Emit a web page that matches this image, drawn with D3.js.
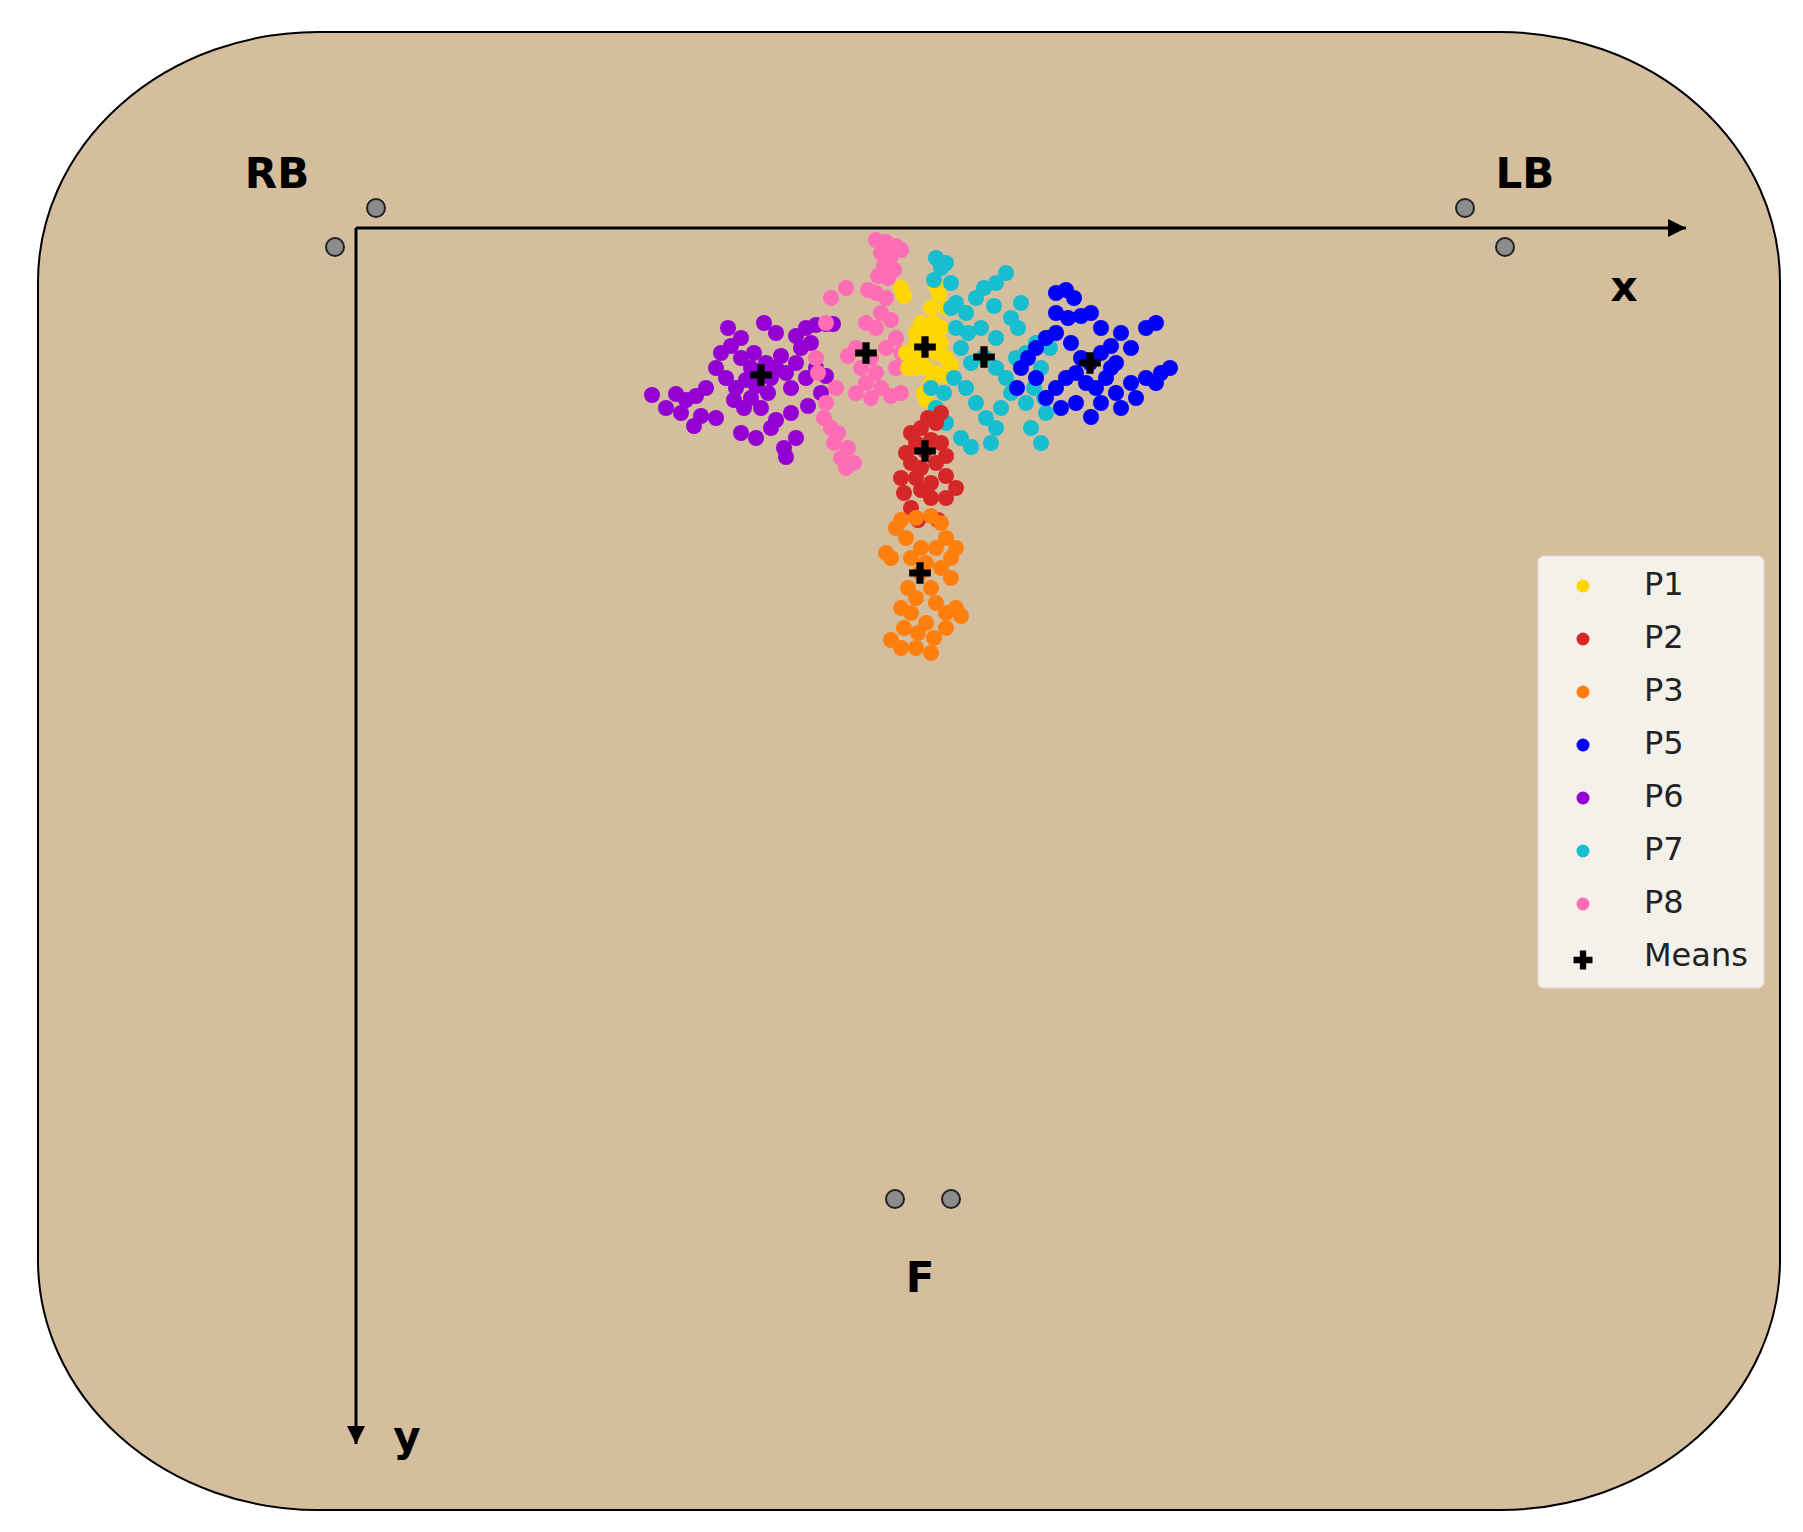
<!DOCTYPE html>
<html><head><meta charset="utf-8">
<script src="https://cdn.jsdelivr.net/npm/d3@7"></script>
<style>body{margin:0;background:#fff}</style></head>
<body><svg id="c" width="1803" height="1532"></svg>
<script>
const seriesNames = ["P1","P2","P3","P5","P6","P7","P8"];
const seriesColors = ["#FFD700","#D62728","#FF7F0E","#0000FF","#9400D3","#17BECF","#FF6EB4"];
const P1 = [[569,119],[560,115],[575,110],[580,125],[565,130],[555,125],[585,115],[590,130],[570,140],[560,140],[580,145],[575,155],[568,165],[570,172],[572,100],[578,95],[565,95],[560,105],[585,100],[545,60],[548,68],[580,58],[583,66],[590,80],[550,125],[552,140],[595,138],[590,148],[575,80]];
const P2 = [[569,223],[560,215],[575,212],[565,200],[572,190],[580,195],[555,235],[565,240],[580,235],[590,228],[585,215],[560,250],[575,255],[590,248],[600,260],[545,250],[550,225],[555,205],[585,185],[575,270],[565,262],[548,265],[555,280],[590,270],[562,292],[582,292]];
const P3 = [[545,292],[560,290],[575,288],[585,295],[590,310],[580,320],[565,320],[555,330],[570,335],[585,340],[595,330],[600,320],[550,310],[540,300],[535,330],[530,325],[564,345],[575,360],[560,370],[580,375],[590,385],[600,380],[605,388],[570,395],[555,385],[545,380],[548,400],[562,405],[578,410],[560,420],[545,420],[535,412],[590,400],[575,425],[552,360],[595,350]];
const P5 = [[700,65],[710,62],[718,70],[700,85],[712,90],[725,88],[735,85],[680,120],[690,110],[700,105],[715,115],[725,130],[734,135],[745,125],[755,118],[760,135],[750,150],[740,160],[730,155],[720,145],[710,150],[700,160],[690,170],[705,180],[720,175],[745,175],[760,165],[775,155],[790,150],[805,145],[814,140],[800,155],[780,170],[765,180],[735,189],[775,120],[790,100],[800,95],[765,105],[672,130],[665,140],[680,150],[661,160],[745,100],[755,140]];
const P6 = [[405,147],[395,140],[415,150],[400,158],[410,135],[390,152],[420,140],[385,130],[425,128],[430,145],[398,125],[412,165],[380,160],[395,170],[435,160],[440,135],[445,120],[450,150],[460,140],[470,148],[375,118],[365,125],[360,140],[370,150],[378,172],[388,180],[405,180],[350,160],[340,168],[330,172],[320,166],[296,167],[310,180],[325,185],[345,188],[360,190],[338,198],[385,205],[400,210],[415,200],[420,192],[435,185],[440,210],[428,220],[430,229],[450,100],[460,97],[470,96],[477,96],[440,108],[455,115],[385,110],[372,100],[408,95],[420,105],[465,165],[452,178]];
const P7 = [[580,30],[585,40],[590,35],[578,52],[595,55],[600,75],[610,85],[620,70],[628,60],[640,55],[650,45],[638,78],[655,90],[662,100],[640,110],[625,100],[600,100],[605,120],[615,135],[628,129],[640,140],[650,150],[660,130],[670,125],[680,115],[690,110],[694,120],[685,140],[678,160],[688,170],[690,185],[670,175],[655,165],[645,180],[640,200],[630,190],[620,175],[610,160],[598,150],[588,165],[580,180],[590,195],[605,210],[615,219],[635,215],[675,200],[685,215],[595,80],[612,105],[665,75],[575,160]];
const P8 = [[520,12],[530,14],[540,18],[525,25],[535,28],[545,22],[528,38],[538,42],[522,48],[532,50],[520,65],[530,70],[512,62],[490,60],[525,85],[510,95],[520,100],[535,92],[540,110],[530,120],[515,130],[500,120],[492,128],[505,140],[520,145],[540,140],[545,125],[510,155],[525,160],[500,165],[515,170],[535,168],[545,165],[475,70],[480,160],[470,175],[468,190],[475,200],[478,215],[485,230],[490,240],[482,205],[492,220],[498,235],[460,130],[462,145],[470,95]];
const seriesPoints = [P1,P2,P3,P5,P6,P7,P8];
const means = [[569,119],[569,223],[564,345],[734,135],[405,147],[628,129],[510,125]];
const sensorPos = [[20,-20],[-21,19],[1109,-20],[1149,19],[539,971],[595,971]];
const labels = [{t:"RB",p:[-79,-52]},{t:"LB",p:[1169,-52]},{t:"x",p:[1268,61]},{t:"y",p:[51,1211]},{t:"F",p:[564,1052]}];

const svg = d3.select("#c");
const x = d3.scaleLinear().domain([0,1330]).range([356,1686]);
const y = d3.scaleLinear().domain([0,1216]).range([228,1444]);

svg.append("rect").attr("x",38).attr("y",32).attr("width",1742).attr("height",1478)
  .attr("rx",280).attr("ry",250).attr("fill","#D4BE9E").attr("stroke","#000").attr("stroke-width",2);

const defs = svg.append("defs");
defs.append("marker").attr("id","ar").attr("viewBox","0 0 10 10").attr("refX",10).attr("refY",5)
  .attr("markerWidth",8).attr("markerHeight",6).attr("orient","auto-start-reverse")
  .append("path").attr("d","M0,0L10,5L0,10z").attr("fill","#000");
svg.append("line").attr("x1",x(0)).attr("y1",y(0)).attr("x2",x(1330)).attr("y2",y(0))
  .attr("stroke","#000").attr("stroke-width",3).attr("marker-end","url(#ar)");
svg.append("line").attr("x1",x(0)).attr("y1",y(0)).attr("x2",x(0)).attr("y2",y(1216))
  .attr("stroke","#000").attr("stroke-width",3).attr("marker-end","url(#ar)");

svg.selectAll(".sn").data(sensorPos).join("circle").attr("cx",d=>x(d[0])).attr("cy",d=>y(d[1]))
  .attr("r",9).attr("fill","#8C8C8C").attr("stroke","#222").attr("stroke-width",2);

svg.selectAll(".lb").data(labels).join("text").attr("x",d=>x(d.p[0])).attr("y",d=>y(d.p[1]))
  .attr("text-anchor","middle").attr("dominant-baseline","middle")
  .attr("font-family","DejaVu Sans").attr("font-weight","bold").attr("font-size",42).text(d=>d.t);

const order = [4,6,0,5,3,1,2];
order.forEach(i=>{
  svg.append("g").selectAll("circle").data(seriesPoints[i]).join("circle")
    .attr("cx",d=>x(d[0])).attr("cy",d=>y(d[1])).attr("r",8).attr("fill",seriesColors[i]);
});
svg.append("g").selectAll("path").data(means).join("path")
  .attr("transform",d=>`translate(${x(d[0])},${y(d[1])})`)
  .attr("d",d3.symbol(d3.symbolCross,260)()).attr("fill","#000");

const lg = svg.append("g");
lg.append("rect").attr("x",1538).attr("y",556).attr("width",226).attr("height",432).attr("rx",6)
  .attr("fill","#F4F0EA").attr("stroke","#ddd");
const items = seriesNames.concat(["Means"]);
items.forEach((n,i)=>{
  const yy = 586 + i*53;
  if(i<7) lg.append("circle").attr("cx",1583).attr("cy",yy).attr("r",6.5).attr("fill",seriesColors[i]);
  else lg.append("path").attr("transform",`translate(1583,${yy+3})`).attr("d",d3.symbol(d3.symbolCross,200)()).attr("fill","#000");
  lg.append("text").attr("x",1644).attr("y",yy).attr("dominant-baseline","middle")
    .attr("font-family","DejaVu Sans").attr("font-size",32).attr("fill","#222").text(n);
});
</script></body></html>
